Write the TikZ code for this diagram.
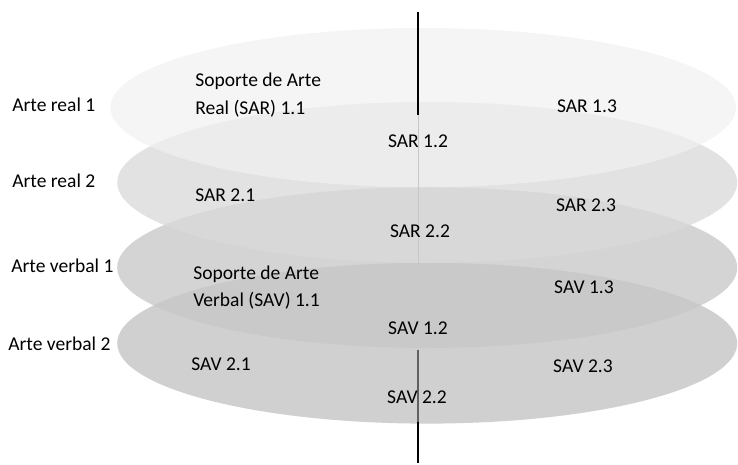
\documentclass[tikz,border=0pt]{standalone}
\usepackage{fontspec}
\setmainfont{Carlito}
\usetikzlibrary{shapes.geometric}

\definecolor{disco1}{gray}{0.945}
\definecolor{disco2}{gray}{0.856}
\definecolor{disco3}{gray}{0.78}
\definecolor{disco4}{gray}{0.816}

\begin{document}
\begin{tikzpicture}[font=\fontsize{13.9}{19.6}\selectfont, text=black]
            % Estilos
            \tikzstyle{disco}=[ellipse, draw=none, inner sep=0pt, minimum width=15.5cm, minimum height=4.02cm]
            \tikzstyle{rotulo}=[inner sep=0pt, text height=0.64em, text depth=0pt]
            \tikzstyle{bloco}=[inner sep=0pt, align=left, anchor=west]
            \tikzstyle{eixo}=[line width=1.1pt]

            \useasboundingbox (0,0) rectangle (18.45,-11.6);

            % Discos (de baixo para cima)
            \node[disco, fill=disco4] (d4) at (10.68,-8.58) {};
            \node[disco, fill=disco3, fill opacity=0.77] (d3) at (10.68,-6.69) {};
            \node[disco, fill=disco2, fill opacity=0.79] (d2) at (10.68,-4.56) {};
            \node[disco, fill=disco1, fill opacity=0.72, minimum width=15.64cm, minimum height=3.98cm] (d1) at (10.58,-2.69) {};

            % Eixo
            \coordinate (topo) at (10.45,-0.3);
            \coordinate (e1) at (10.45,-2.875);
            \coordinate (e2) at (10.45,-8.75);
            \coordinate (e3) at (10.45,-10.55);
            \coordinate (base) at (10.45,-11.575);
            \draw[eixo] (topo) -- (e1);
            \draw[black!22, line width=0.6pt] (e1) -- (e2);
            \draw[eixo, black!62] (e2) -- (e3);
            \draw[eixo] (e3) -- (base);

            % Niveis
            \node[rotulo, anchor=west] (ar1) at (0.3,-2.675) {Arte real 1};
            \node[rotulo, anchor=west] (ar2) at (0.3,-4.575) {Arte real 2};
            \node[rotulo, anchor=west] (av1) at (0.275,-6.7) {Arte verbal 1};
            \node[rotulo, anchor=west] (av2) at (0.2,-8.65) {Arte verbal 2};

            % Anotacoes
            \node[bloco] (sar11) at (4.875,-2.375) {Soporte de Arte\\Real (SAR) 1.1};
            \node[rotulo] (sar12) at (10.45,-3.575) {SAR 1.2};
            \node[rotulo] (sar13) at (14.675,-2.7) {SAR 1.3};
            \node[rotulo, anchor=west] (sar21) at (4.875,-4.925) {SAR 2.1};
            \node[rotulo] (sar22) at (10.5,-5.825) {SAR 2.2};
            \node[rotulo] (sar23) at (14.65,-5.175) {SAR 2.3};
            \node[bloco] (sav11) at (4.825,-7.19) {Soporte de Arte\\Verbal (SAV) 1.1};
            \node[rotulo] (sav12) at (10.45,-8.25) {SAV 1.2};
            \node[rotulo] (sav13) at (14.6,-7.225) {SAV 1.3};
            \node[rotulo, anchor=west] (sav21) at (4.775,-9.15) {SAV 2.1};
            \node[rotulo] (sav22) at (10.425,-9.975) {SAV 2.2};
            \node[rotulo] (sav23) at (14.575,-9.2) {SAV 2.3};
\end{tikzpicture}
\end{document}
